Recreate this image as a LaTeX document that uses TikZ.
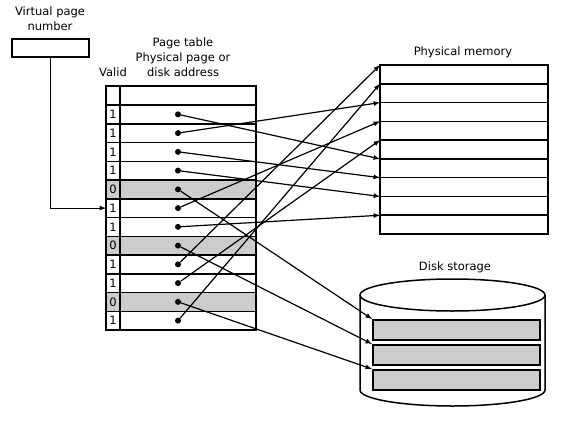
\documentclass[tikz,border=0pt]{standalone}
\usepackage{fontspec}
\setmainfont{DejaVu Sans}
\usetikzlibrary{arrows}
\definecolor{page_grey}{RGB}{204,204,204}

\begin{document}
\begin{tikzpicture}[x=1pt,y=-1pt,font=\fontsize{11.5}{15}\selectfont,
  box/.style={draw,line width=1.5pt},
  link/.style={-latex,line width=1.2pt},
  dot/.style={circle,fill,inner sep=0pt,minimum size=6pt}]

 \useasboundingbox (0,0) rectangle (577,420);

 % virtual page number
 \node[align=center] (vpn_label) at (50,19) {Virtual page\\number};
 \node[box,minimum width=77pt,minimum height=18pt,inner sep=0pt] (vpn) at (50.5,48) {};

 % page table
 \node[align=center] (pt_label) at (183,57) {Page table\\Physical page or\\disk address};
 \node (valid_label) at (113,72) {Valid};

 \foreach \r in {5,8,11}
  \fill[page_grey] (106,{105+18.75*(\r-1)}) rectangle (256,{105+18.75*\r});
 \draw[box] (106,86) rectangle (256,330);
 \draw[box] (120,86) -- (120,330);
 \foreach \r in {0,...,11}
  \draw[box] (106,{105+18.75*\r}) -- (256,{105+18.75*\r});

 \foreach \r/\v in {1/1,2/1,3/1,4/1,5/0,6/1,7/1,8/0,9/1,10/1,11/0,12/1} {
  \node[inner sep=0pt] (v\r) at (113,{95.6+18.75*\r}) {\v};
  \node[dot] (d\r) at (178,{95.6+18.75*\r}) {};
 }
 \coordinate (pt_in) at (106,208.1);

 % physical memory
 \node (mem_label) at (463,52) {Physical memory};
 \draw[box] (380,65) rectangle (548,234);
 \foreach \k in {1,...,8}
  \draw[box] (380,{65+18.78*\k}) -- (548,{65+18.78*\k});
 \foreach \k in {0,...,8}
  \coordinate (m\k) at (380,{65+18.78*\k});

 % disk storage
 \node (disk_label) at (455,267) {Disk storage};
 \draw[box] (452.5,295) ellipse [x radius=92.5, y radius=16];
 \draw[box] (360,295) -- (360,390) arc[start angle=180, end angle=0, x radius=92.5, y radius=16] -- (545,295);
 \node[box,fill=page_grey,minimum width=167pt,minimum height=20pt,inner sep=0pt,anchor=north west] (disk1) at (372,319) {};
 \node[box,fill=page_grey,minimum width=167pt,minimum height=20pt,inner sep=0pt,anchor=north west] (disk2) at (372,344) {};
 \node[box,fill=page_grey,minimum width=167pt,minimum height=20pt,inner sep=0pt,anchor=north west] (disk3) at (372,369) {};

 % mapping
 \draw[link] (vpn.south) |- (pt_in);
 \draw[link] (d1) -- (m5);
 \draw[link] (d2) -- (m2);
 \draw[link] (d3) -- (m6);
 \draw[link] (d4) -- (m7);
 \draw[link] (d5) -- (disk1.north west);
 \draw[link] (d6) -- (m3);
 \draw[link] (d7) -- (m8);
 \draw[link] (d8) -- (disk2.north west);
 \draw[link] (d9) -- (m0);
 \draw[link] (d10) -- (m4);
 \draw[link] (d11) -- (disk3.north west);
 \draw[link] (d12) -- (m1);
\end{tikzpicture}
\end{document}
